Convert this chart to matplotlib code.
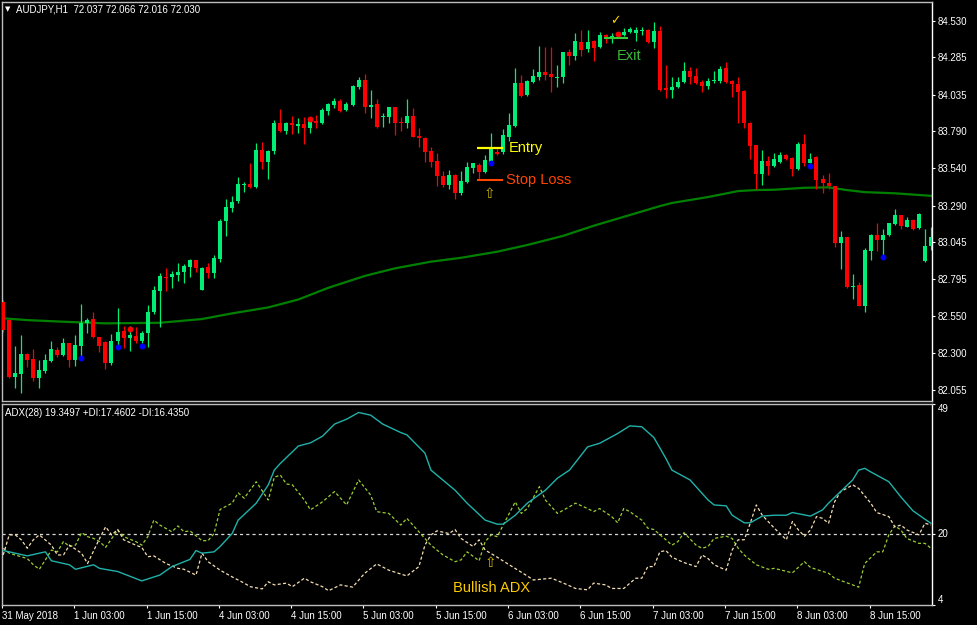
import numpy as np
import matplotlib
matplotlib.use("Agg")
import matplotlib.pyplot as plt

plt.rcParams["font.family"] = ["Liberation Sans", "DejaVu Sans"]

# AUDJPY H1 candles, one per bar (bar 0 = 31 May 2018 15:00)
opens = [82.642, 82.521, 82.141, 82.159, 82.293, 82.259, 82.130, 82.181, 82.246, 82.320,
         82.286, 82.365, 82.253, 82.347, 82.499, 82.528, 82.405, 82.376, 82.231, 82.380,
         82.447, 82.402, 82.416, 82.382, 82.432, 82.577, 82.718, 82.812, 82.808, 82.823,
         82.843, 82.879, 82.924, 82.726, 82.876, 82.838, 82.934, 83.188, 83.275, 83.320,
         83.431, 83.432, 83.413, 83.662, 83.582, 83.657, 83.843, 83.792, 83.841, 83.825,
         83.837, 83.812, 83.859, 83.841, 83.922, 83.964, 83.993, 83.931, 83.964, 84.087,
         84.132, 83.949, 83.969, 83.887, 83.882, 83.949, 83.850, 83.845, 83.890, 83.756,
         83.745, 83.656, 83.588, 83.490, 83.427, 83.494, 83.376, 83.449, 83.543, 83.561,
         83.517, 83.577, 83.651, 83.651, 83.751, 83.823, 84.110, 84.031, 84.121, 84.154,
         84.188, 84.172, 84.149, 84.150, 84.318, 84.295, 84.389, 84.338, 84.394, 84.356,
         84.434, 84.420, 84.445, 84.434, 84.452, 84.445, 84.461, 84.468, 84.389, 84.463,
         84.076, 84.065, 84.083, 84.121, 84.192, 84.159, 84.121, 84.092, 84.127, 84.127,
         84.211, 84.125, 84.105, 84.058, 83.845, 83.696, 83.499, 83.588, 83.557, 83.584,
         83.629, 83.611, 83.535, 83.703, 83.577, 83.617, 83.466, 83.443, 83.421, 83.040,
         83.076, 82.746, 82.756, 82.617, 82.986, 83.090, 83.058, 83.090, 83.165, 83.224,
         83.147, 83.192, 83.137, 82.917, 83.018]
highs = [82.655, 82.528, 82.347, 82.418, 82.300, 82.327, 82.253, 82.293, 82.380, 82.338,
         82.398, 82.370, 82.418, 82.629, 82.533, 82.577, 82.410, 82.380, 82.427, 82.600,
         82.481, 82.481, 82.476, 82.447, 82.622, 82.749, 82.839, 82.868, 82.850, 82.902,
         82.897, 82.931, 82.927, 82.879, 82.902, 82.957, 83.197, 83.335, 83.353, 83.481,
         83.447, 83.578, 83.708, 83.716, 83.662, 83.864, 83.939, 83.850, 83.890, 83.879,
         83.886, 83.886, 83.897, 83.946, 83.980, 84.009, 84.003, 83.986, 84.098, 84.150,
         84.172, 84.065, 84.003, 83.913, 83.953, 83.953, 83.886, 84.007, 83.942, 83.808,
         83.749, 83.684, 83.640, 83.523, 83.528, 83.501, 83.523, 83.580, 83.577, 83.573,
         83.629, 83.774, 83.684, 83.803, 83.909, 84.211, 84.166, 84.132, 84.204, 84.360,
         84.356, 84.356, 84.233, 84.322, 84.338, 84.445, 84.468, 84.468, 84.401, 84.452,
         84.439, 84.448, 84.454, 84.479, 84.486, 84.486, 84.486, 84.478, 84.523, 84.494,
         84.233, 84.150, 84.150, 84.255, 84.221, 84.211, 84.132, 84.143, 84.192, 84.228,
         84.255, 84.132, 84.150, 84.065, 83.850, 83.699, 83.662, 83.624, 83.640, 83.651,
         83.635, 83.617, 83.718, 83.770, 83.640, 83.622, 83.494, 83.506, 83.424, 83.121,
         83.078, 82.830, 82.778, 83.002, 83.098, 83.170, 83.130, 83.174, 83.264, 83.226,
         83.210, 83.197, 83.237, 83.130, 83.147]
lows = [82.441, 82.134, 82.067, 82.029, 82.206, 82.114, 82.063, 82.167, 82.237, 82.271,
        82.279, 82.204, 82.212, 82.275, 82.432, 82.398, 82.308, 82.192, 82.221, 82.353,
        82.335, 82.313, 82.365, 82.365, 82.338, 82.561, 82.476, 82.718, 82.739, 82.783,
        82.767, 82.808, 82.845, 82.722, 82.801, 82.801, 82.912, 83.085, 83.248, 83.310,
        83.382, 83.407, 83.407, 83.537, 83.470, 83.635, 83.785, 83.770, 83.770, 83.778,
        83.702, 83.778, 83.813, 83.837, 83.895, 83.942, 83.919, 83.924, 83.958, 84.070,
        83.913, 83.875, 83.812, 83.819, 83.845, 83.763, 83.792, 83.808, 83.747, 83.684,
        83.584, 83.550, 83.423, 83.416, 83.398, 83.331, 83.360, 83.443, 83.506, 83.461,
        83.506, 83.573, 83.632, 83.635, 83.725, 83.819, 84.020, 84.025, 84.110, 84.132,
        84.132, 84.054, 84.087, 84.114, 84.233, 84.266, 84.293, 84.322, 84.262, 84.349,
        84.378, 84.380, 84.417, 84.427, 84.445, 84.396, 84.434, 84.380, 84.345, 84.060,
        84.009, 84.013, 84.076, 84.114, 84.105, 84.105, 84.054, 84.070, 84.110, 84.114,
        84.114, 84.020, 83.845, 83.808, 83.600, 83.398, 83.427, 83.494, 83.550, 83.573,
        83.595, 83.490, 83.528, 83.557, 83.573, 83.398, 83.374, 83.400, 83.009, 82.863,
        82.736, 82.662, 82.615, 82.577, 82.924, 82.986, 82.942, 83.085, 83.159, 83.132,
        83.143, 83.125, 83.130, 82.914, 82.991]
closes = [82.454, 82.141, 82.167, 82.293, 82.253, 82.130, 82.186, 82.253, 82.327, 82.286,
          82.365, 82.253, 82.353, 82.503, 82.521, 82.405, 82.349, 82.231, 82.380, 82.443,
          82.402, 82.420, 82.380, 82.436, 82.577, 82.722, 82.817, 82.805, 82.828, 82.843,
          82.884, 82.924, 82.874, 82.868, 82.838, 82.936, 83.188, 83.278, 83.313, 83.432,
          83.434, 83.415, 83.662, 83.580, 83.657, 83.843, 83.791, 83.841, 83.830, 83.837,
          83.812, 83.860, 83.845, 83.931, 83.971, 83.993, 83.926, 83.971, 84.092, 84.132,
          83.949, 83.964, 83.819, 83.890, 83.949, 83.845, 83.847, 83.890, 83.751, 83.745,
          83.651, 83.584, 83.490, 83.427, 83.494, 83.376, 83.456, 83.550, 83.573, 83.517,
          83.595, 83.674, 83.635, 83.763, 83.830, 84.110, 84.025, 84.127, 84.159, 84.188,
          84.166, 84.150, 84.152, 84.318, 84.295, 84.396, 84.333, 84.385, 84.349, 84.434,
          84.419, 84.423, 84.429, 84.456, 84.472, 84.468, 84.464, 84.389, 84.463, 84.065,
          84.065, 84.087, 84.121, 84.192, 84.154, 84.114, 84.094, 84.125, 84.131, 84.206,
          84.121, 84.105, 84.054, 83.841, 83.691, 83.499, 83.588, 83.557, 83.602, 83.629,
          83.602, 83.535, 83.703, 83.573, 83.600, 83.461, 83.439, 83.419, 83.040, 83.076,
          82.741, 82.749, 82.617, 82.991, 83.090, 83.058, 83.090, 83.170, 83.224, 83.154,
          83.192, 83.130, 83.231, 83.018, 83.076]

# moving average, read at the bars where it could be measured
ma_idx = [0, 4, 10, 17, 26, 33, 38, 44, 49, 54, 60, 65, 71, 76, 82, 87, 93, 98, 104, 109,
          111, 117, 122, 125, 128, 133, 137, 140, 143, 148, 154]
ma_val = [82.533, 82.521, 82.510, 82.499, 82.503, 82.528, 82.566, 82.606, 82.659, 82.738,
          82.817, 82.868, 82.913, 82.939, 82.980, 83.025, 83.087, 83.154, 83.226, 83.286,
          83.307, 83.347, 83.387, 83.394, 83.396, 83.409, 83.412, 83.394, 83.380, 83.372,
          83.355]

# signal dots
buy_idx = [13, 19, 23, 81, 134, 146]
buy_val = [82.268, 82.342, 82.347, 83.573, 83.557, 82.942]
sell_idx = [21, 51, 102]
sell_val = [82.461, 83.868, 84.439]

# ADX(28) panel
adx_idx = [0, 4, 7, 8, 11, 12, 15, 16, 19, 23, 26, 28, 31, 32, 33, 35, 36, 38, 39, 42,
           44, 45, 46, 49, 51, 53, 55, 57, 59, 61, 63, 66, 67, 70, 71, 75, 77, 80, 82, 83,
           85, 87, 90, 92, 94, 97, 99, 102, 104, 106, 108, 110, 111, 114, 117, 118, 120, 121, 123, 124,
           126, 128, 130, 131, 134, 136, 137, 139, 141, 142, 143, 144, 147, 149, 151, 153, 154]
adx_val = [16.2, 15.0, 15.9, 13.9, 13.0, 12.0, 13.0, 12.2, 11.5, 9.4, 10.7, 12.6, 14.2, 16.2, 15.6, 15.9, 17.1, 20.0, 23.0, 26.8,
           30.9, 34.2, 35.7, 39.6, 40.3, 41.8, 44.5, 45.6, 47.1, 46.5, 44.5, 42.6, 42.1, 38.0, 34.2, 29.7, 26.8, 23.0, 22.1, 22.1,
           24.1, 26.8, 29.7, 32.4, 34.2, 39.4, 40.2, 42.4, 44.1, 43.9, 41.5, 36.8, 34.2, 32.0, 27.5, 26.4, 26.2, 24.1, 22.4, 22.4,
           23.9, 24.1, 24.1, 24.7, 23.9, 25.3, 26.8, 29.4, 32.0, 34.2, 34.6, 33.8, 31.6, 28.2, 25.1, 23.2, 22.3]

pdi_idx = [0, 1, 3, 4, 5, 6, 7, 8, 9, 10, 11, 12, 13, 14, 15, 16, 17, 19, 20, 22,
           23, 24, 25, 26, 28, 29, 30, 31, 33, 34, 35, 36, 38, 39, 40, 42, 44, 45, 46, 47,
           48, 50, 51, 53, 55, 57, 59, 61, 62, 64, 66, 67, 68, 70, 71, 73, 75, 76, 77, 79,
           80, 81, 82, 84, 85, 86, 87, 89, 90, 92, 94, 95, 97, 98, 99, 101, 102, 103, 104, 106,
           107, 108, 110, 111, 112, 113, 115, 116, 117, 118, 120, 121, 122, 123, 125, 127, 128, 131, 133, 134,
           137, 138, 141, 142, 143, 145, 146, 147, 148, 149, 150, 152, 153, 154]
pdi_val = [16.7, 15.6, 14.8, 14.4, 13.0, 12.0, 14.1, 16.3, 15.9, 18.2, 17.1, 17.4, 20.2, 19.3, 18.9, 18.2, 16.9, 20.8, 19.3, 18.2,
           17.4, 19.3, 23.0, 21.9, 20.4, 21.7, 20.4, 20.6, 18.4, 18.4, 20.0, 25.4, 26.8, 29.1, 27.9, 31.6, 27.5, 32.6, 33.1, 31.1,
           30.9, 27.5, 25.3, 27.1, 29.4, 26.4, 32.0, 28.6, 24.9, 24.5, 21.9, 23.4, 21.9, 18.9, 17.4, 15.2, 13.7, 14.1, 15.9, 13.9,
           18.2, 19.7, 19.3, 24.5, 27.1, 24.5, 25.6, 30.5, 27.5, 24.5, 26.0, 26.8, 25.6, 24.9, 25.6, 23.8, 22.4, 25.6, 24.9, 23.0,
           21.2, 20.9, 18.6, 17.4, 18.2, 20.2, 17.4, 16.7, 17.1, 18.9, 19.4, 18.9, 16.7, 15.2, 13.0, 12.0, 12.2, 11.2, 13.7, 12.4,
           11.1, 10.0, 8.5, 8.0, 13.3, 15.9, 15.9, 19.7, 21.7, 20.8, 18.9, 17.8, 17.8, 16.7]

mdi_idx = [0, 1, 2, 3, 4, 5, 6, 8, 9, 10, 11, 13, 14, 16, 17, 18, 19, 20, 22, 23,
           24, 25, 27, 29, 30, 32, 33, 34, 36, 38, 40, 41, 43, 44, 45, 47, 48, 50, 51, 53,
           54, 56, 58, 60, 62, 64, 67, 69, 70, 71, 72, 74, 75, 76, 78, 79, 80, 82, 84, 87,
           88, 91, 93, 95, 97, 98, 100, 101, 103, 105, 106, 107, 108, 109, 110, 111, 113, 115, 116, 117,
           118, 120, 121, 122, 123, 124, 125, 126, 128, 130, 131, 132, 133, 134, 135, 136, 137, 138, 139, 140,
           141, 142, 144, 145, 147, 148, 149, 150, 152, 153, 154]
mdi_val = [15.2, 19.7, 19.7, 18.6, 16.7, 18.6, 19.7, 17.4, 15.2, 15.2, 17.4, 15.6, 13.3, 18.9, 21.5, 19.7, 20.9, 18.6, 17.4, 16.9,
           14.8, 15.0, 13.3, 12.2, 12.0, 10.7, 15.6, 13.7, 11.8, 10.3, 8.9, 8.1, 7.6, 9.2, 8.5, 8.9, 8.1, 10.0, 9.2, 8.1,
           7.2, 8.5, 8.0, 11.1, 13.2, 11.8, 10.5, 12.6, 17.4, 19.7, 20.6, 20.0, 20.9, 18.9, 17.1, 18.6, 16.3, 14.7, 13.0, 10.5,
           9.6, 10.0, 8.9, 7.7, 7.4, 8.9, 8.5, 7.7, 7.7, 10.0, 10.0, 12.6, 12.6, 15.9, 16.2, 14.7, 13.5, 12.6, 15.2, 14.4,
           13.0, 11.8, 16.3, 18.6, 18.6, 22.3, 26.4, 24.1, 21.2, 18.6, 22.7, 20.8, 19.4, 20.8, 23.8, 23.4, 22.3, 27.1, 29.4, 30.1,
           30.9, 30.1, 26.8, 24.7, 23.8, 21.5, 21.9, 20.8, 19.7, 22.3, 21.9]

price_ticks = [84.530, 84.285, 84.035, 83.790, 83.540, 83.290, 83.045, 82.795, 82.550, 82.300, 82.055]
date_idx = [0, 12, 24, 36, 48, 60, 72, 84, 96, 108, 120, 132, 144]
date_labels = ["31 May 2018", "1 Jun 03:00", "1 Jun 15:00", "4 Jun 03:00", "4 Jun 15:00",
               "5 Jun 03:00", "5 Jun 15:00", "6 Jun 03:00", "6 Jun 15:00", "7 Jun 03:00",
               "7 Jun 15:00", "8 Jun 03:00", "8 Jun 15:00"]

# trade marks
entry_price, stop_price, exit_price = 83.678, 83.461, 84.416

BULL, BEAR = "#00ee76", "#ff0000"
W, H = 977, 625

fig = plt.figure(figsize=(W / 100, H / 100), dpi=100, facecolor="black")
ax = fig.add_axes([2 / W, 1 - 401 / H, 930 / W, 399 / H], facecolor="black")
ax2 = fig.add_axes([2 / W, 1 - 605 / H, 930 / W, 201 / H], facecolor="black")

for a in (ax, ax2):
    a.set_xlim(-0.17, 154.17)
    for side in ("left", "top", "bottom"):
        a.spines[side].set_color("#bdbdbd")
    a.spines["right"].set_color("white")
    for s in a.spines.values():
        s.set_linewidth(1)
    a.yaxis.tick_right()
    a.tick_params(axis="y", colors="white", labelsize=7, length=2.5, width=0.8, pad=1.5)

# --- price panel ---
o, h, l, c = map(np.array, (opens, highs, lows, closes))
idx = np.arange(len(o))
cols = np.where(c >= o, BULL, BEAR)
ax.plot(ma_idx, ma_val, color="#008000", lw=1.6, zorder=1)
ax.vlines(idx, l, h, colors=cols, lw=0.9, zorder=2)
ax.bar(idx, np.maximum(np.abs(c - o), 0.005), bottom=np.minimum(o, c), width=0.66,
       color=cols, linewidth=0, zorder=3)
ax.scatter(buy_idx, buy_val, s=18, color="#0000ff", zorder=4, linewidths=0)
ax.scatter(sell_idx, sell_val, s=18, color="#ff0000", zorder=4, linewidths=0)

ax.set_ylim(81.978, 84.656)
ax.set_yticks(price_ticks)
ax.set_yticklabels([f"{p:.3f}" for p in price_ticks])
ax.set_xticks([])

ax.hlines(entry_price, 78.7, 82.9, color="#ffff00", lw=1.6, zorder=5)
ax.text(83.9, entry_price, "Entry", color="#ffff00", fontsize=10.5, va="center", ha="left")
ax.hlines(stop_price, 78.7, 82.9, color="#ff4500", lw=1.5, zorder=5)
ax.text(83.4, stop_price, "Stop Loss", color="#ff4500", fontsize=10.5, va="center", ha="left")
ax.hlines(exit_price, 99.7, 103.8, color="#32cd32", lw=1.5, zorder=5)
ax.text(101.8, 84.293, "Exit", color="#3cb83c", fontsize=10.5, va="center", ha="left")
ax.text(101.7, 84.528, "\u2713", color="#ffd700", fontsize=9, va="center", ha="center",
        family="DejaVu Sans")
ax.text(80.8, 83.367, "\u21e7", color="#c8b400", fontsize=10, va="center", ha="center",
        family="DejaVu Sans")

# --- ADX panel ---
ax2.axhline(20, color="#d8d8d8", lw=0.9, ls=(0, (2.5, 2.5)), zorder=1)
ax2.plot(pdi_idx, pdi_val, color="#9acd32", lw=0.9, ls=(0, (2.5, 1.8)), zorder=2)
ax2.plot(mdi_idx, mdi_val, color="#f5deb3", lw=0.9, ls=(0, (2.5, 1.8)), zorder=2)
ax2.plot(adx_idx, adx_val, color="#20b2aa", lw=1.0, zorder=3)
ax2.set_ylim(4, 49)
ax2.set_yticks([4, 20, 49])
ax2.set_yticklabels(["4", "20", "49"])
for lbl, va in zip(ax2.get_yticklabels(), ["bottom", "center", "top"]):
    lbl.set_va(va)
ax2.set_xticks(np.array(date_idx) - 0.2)
ax2.set_xticklabels(date_labels, ha="left")
ax2.tick_params(axis="x", colors="white", labelsize=7, length=2.5, width=0.8, pad=1.5)

ax2.text(80.8, 13.3, "\u21e7", color="#d4b400", fontsize=10, va="center", ha="center",
         family="DejaVu Sans")
ax2.text(74.6, 7.8, "Bullish ADX", color="#ffcc00", fontsize=10.5, va="center", ha="left")

fig.text(5 / W, 1 - 9 / H, "\u25bc", color="white", fontsize=5, va="center", ha="left",
         family="DejaVu Sans")
fig.text(16 / W, 1 - 9 / H, "AUDJPY,H1  72.037 72.066 72.016 72.030", color="white",
         fontsize=7, va="center", ha="left")
fig.text(5 / W, 1 - 413 / H, "ADX(28) 19.3497 +DI:17.4602 -DI:16.4350", color="white",
         fontsize=7, va="center", ha="left")

fig.savefig("out.png", dpi=100, facecolor="black")
